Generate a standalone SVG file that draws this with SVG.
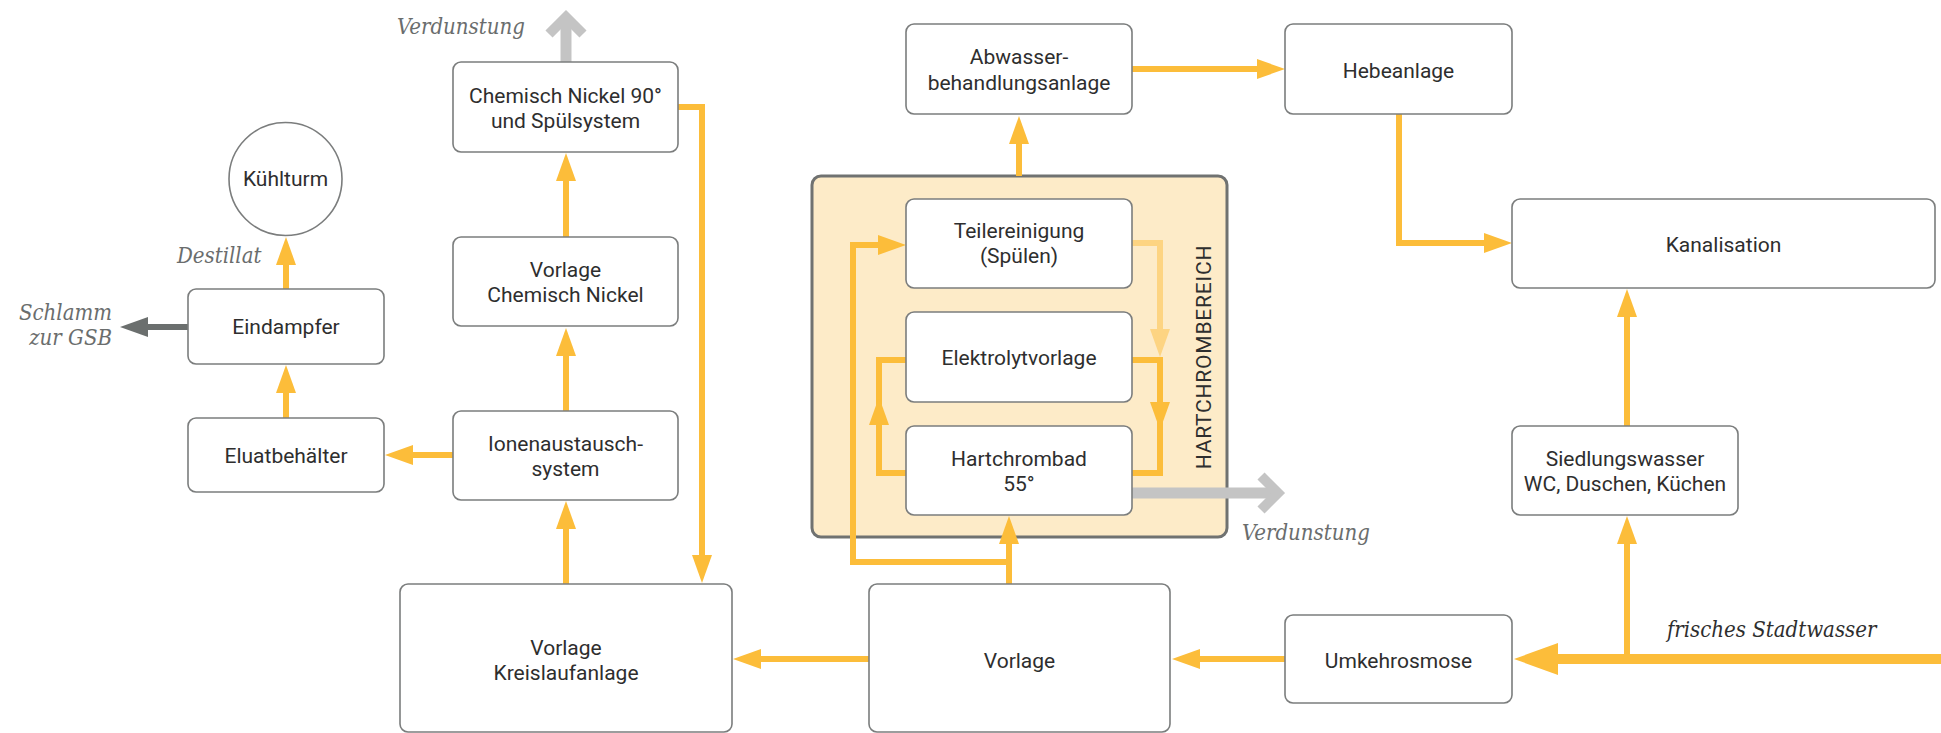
<svg xmlns="http://www.w3.org/2000/svg" width="1941" height="733" viewBox="0 0 1941 733">
<style>
.box{fill:#fff;stroke:#7b7d7d;stroke-width:1.6}
.t{font-family:Roboto,"Liberation Sans",sans-serif;font-size:21px;fill:#2e2e2e;text-anchor:middle}
.lbl{font-family:"DejaVu Serif","Liberation Serif",serif;font-style:italic;font-stretch:condensed;font-size:22px;fill:#6a6d6d}
.o{fill:none;stroke:#fcbd3a;stroke-width:6;stroke-linejoin:miter}
.ol{fill:none;stroke:#fdd482;stroke-width:6}
.g{fill:none;stroke:#c4c4c4;stroke-width:11}
.d{fill:none;stroke:#6b6f6e;stroke-width:6}
</style>
<defs>
<marker id="ah" viewBox="0 0 28 20" refX="18" refY="10" markerWidth="28" markerHeight="20" markerUnits="userSpaceOnUse" orient="auto"><path d="M0,0 L28,10 L0,20 Z" fill="#fcbd3a"/></marker>
<marker id="ahl" viewBox="0 0 28 20" refX="18" refY="10" markerWidth="28" markerHeight="20" markerUnits="userSpaceOnUse" orient="auto"><path d="M0,0 L28,10 L0,20 Z" fill="#fdd482"/></marker>
<marker id="ahd" viewBox="0 0 28 20" refX="18" refY="10" markerWidth="28" markerHeight="20" markerUnits="userSpaceOnUse" orient="auto"><path d="M0,0 L28,10 L0,20 Z" fill="#6b6f6e"/></marker>
<marker id="ahb" viewBox="0 0 44 32" refX="30" refY="16" markerWidth="44" markerHeight="32" markerUnits="userSpaceOnUse" orient="auto"><path d="M0,0 L44,16 L0,32 Z" fill="#fcbd3a"/></marker>
<marker id="chev" viewBox="-30 -26 40 52" refX="0" refY="0" markerWidth="40" markerHeight="52" markerUnits="userSpaceOnUse" orient="auto"><path d="M-17,-17 L0,0 L-17,17" fill="none" stroke="#c4c4c4" stroke-width="10" stroke-linejoin="miter"/></marker>
</defs>

<g id="hartchrombereich">
<rect x="812" y="176" width="415" height="361" rx="9" fill="#fdebc8" stroke="#707271" stroke-width="3"/>
<text transform="translate(1211,357) rotate(-90)" font-family="Roboto,'Liberation Sans',sans-serif" font-size="21" fill="#2e2e2e" text-anchor="middle" letter-spacing="0.8">HARTCHROMBEREICH</text>
</g>

<g id="connectors">
<path class="o" d="M286,289 V247" marker-end="url(#ah)"/>
<path class="d" d="M188,327 H130" marker-end="url(#ahd)"/>
<path class="o" d="M286,418 V375" marker-end="url(#ah)"/>
<path class="o" d="M453,455 H395" marker-end="url(#ah)"/>
<path class="o" d="M566,584 V511" marker-end="url(#ah)"/>
<path class="o" d="M566,411 V338" marker-end="url(#ah)"/>
<path class="o" d="M566,237 V163" marker-end="url(#ah)"/>
<path class="g" d="M566,62 V17" marker-end="url(#chev)"/>
<path class="o" d="M678,107 H702 V573" marker-end="url(#ah)"/>
<path class="o" d="M869,659 H743" marker-end="url(#ah)"/>
<path class="o" d="M1285,659 H1182" marker-end="url(#ah)"/>
<path fill="none" stroke="#fcbd3a" stroke-width="10" d="M1941,659 H1528" marker-end="url(#ahb)"/>
<path class="o" d="M1627,656 V526" marker-end="url(#ah)"/>
<path class="o" d="M1627,426 V299" marker-end="url(#ah)"/>
<path class="o" d="M1132,69 H1275" marker-end="url(#ah)"/>
<path class="o" d="M1399,114 V243 H1502" marker-end="url(#ah)"/>
<path class="o" d="M1019,176 V126" marker-end="url(#ah)"/>
<path class="o" d="M1009,584 V526" marker-end="url(#ah)"/>
<path class="o" d="M1009,562 H853 V245 H896" marker-end="url(#ah)"/>
<path class="ol" d="M1132,243 H1160 V347" marker-end="url(#ahl)"/>
<path class="o" d="M1132,360 H1160 V473 H1132"/>
<path class="o" d="M1160,400 V420" marker-end="url(#ah)"/>
<path class="o" d="M906,473 H879 V360 H906"/>
<path class="o" d="M879,440 V407" marker-end="url(#ah)"/>
<path class="g" d="M1132,493 H1278" marker-end="url(#chev)"/>
</g>

<g id="kuehlturm"><circle class="box" cx="285.5" cy="179" r="56.5"/><text class="t" x="285.5" y="186">Kühlturm</text></g>
<g id="eindampfer"><rect class="box" x="188" y="289" width="196" height="75" rx="8"/><text class="t" x="286" y="334">Eindampfer</text></g>
<g id="eluatbehaelter"><rect class="box" x="188" y="418" width="196" height="74" rx="8"/><text class="t" x="286" y="463">Eluatbehälter</text></g>
<g id="chemisch-nickel-90"><rect class="box" x="453" y="62" width="225" height="90" rx="8"/><text class="t" x="565.5" y="103">Chemisch Nickel 90°</text><text class="t" x="565.5" y="128">und Spülsystem</text></g>
<g id="vorlage-chemisch-nickel"><rect class="box" x="453" y="237" width="225" height="89" rx="8"/><text class="t" x="565.5" y="277">Vorlage</text><text class="t" x="565.5" y="302">Chemisch Nickel</text></g>
<g id="ionenaustausch"><rect class="box" x="453" y="411" width="225" height="89" rx="8"/><text class="t" x="565.5" y="451">Ionenaustausch-</text><text class="t" x="565.5" y="476">system</text></g>
<g id="vorlage-kreislaufanlage"><rect class="box" x="400" y="584" width="332" height="148" rx="8"/><text class="t" x="566" y="655">Vorlage</text><text class="t" x="566" y="680">Kreislaufanlage</text></g>
<g id="abwasser"><rect class="box" x="906" y="24" width="226" height="90" rx="8"/><text class="t" x="1019" y="64">Abwasser-</text><text class="t" x="1019" y="90">behandlungsanlage</text></g>
<g id="teilereinigung"><rect class="box" x="906" y="199" width="226" height="89" rx="8"/><text class="t" x="1019" y="238">Teilereinigung</text><text class="t" x="1019" y="263">(Spülen)</text></g>
<g id="elektrolytvorlage"><rect class="box" x="906" y="312" width="226" height="90" rx="8"/><text class="t" x="1019" y="365">Elektrolytvorlage</text></g>
<g id="hartchrombad"><rect class="box" x="906" y="426" width="226" height="89" rx="8"/><text class="t" x="1019" y="466">Hartchrombad</text><text class="t" x="1019" y="491">55°</text></g>
<g id="vorlage"><rect class="box" x="869" y="584" width="301" height="148" rx="8"/><text class="t" x="1019.5" y="668">Vorlage</text></g>
<g id="hebeanlage"><rect class="box" x="1285" y="24" width="227" height="90" rx="8"/><text class="t" x="1398.5" y="78">Hebeanlage</text></g>
<g id="kanalisation"><rect class="box" x="1512" y="199" width="423" height="89" rx="8"/><text class="t" x="1723.5" y="252">Kanalisation</text></g>
<g id="siedlungswasser"><rect class="box" x="1512" y="426" width="226" height="89" rx="8"/><text class="t" x="1625" y="466">Siedlungswasser</text><text class="t" x="1625" y="491">WC, Duschen, Küchen</text></g>
<g id="umkehrosmose"><rect class="box" x="1285" y="615" width="227" height="88" rx="8"/><text class="t" x="1398.5" y="668">Umkehrosmose</text></g>

<g id="labels">
<text class="lbl" x="397" y="34">Verdunstung</text>
<text class="lbl" x="177" y="263">Destillat</text>
<text class="lbl" x="112" y="320" text-anchor="end">Schlamm</text>
<text class="lbl" x="112" y="345" text-anchor="end">zur GSB</text>
<text class="lbl" x="1242" y="540">Verdunstung</text>
<text class="lbl" x="1667" y="637" style="fill:#2e2e2e">frisches Stadtwasser</text>
</g>
</svg>
